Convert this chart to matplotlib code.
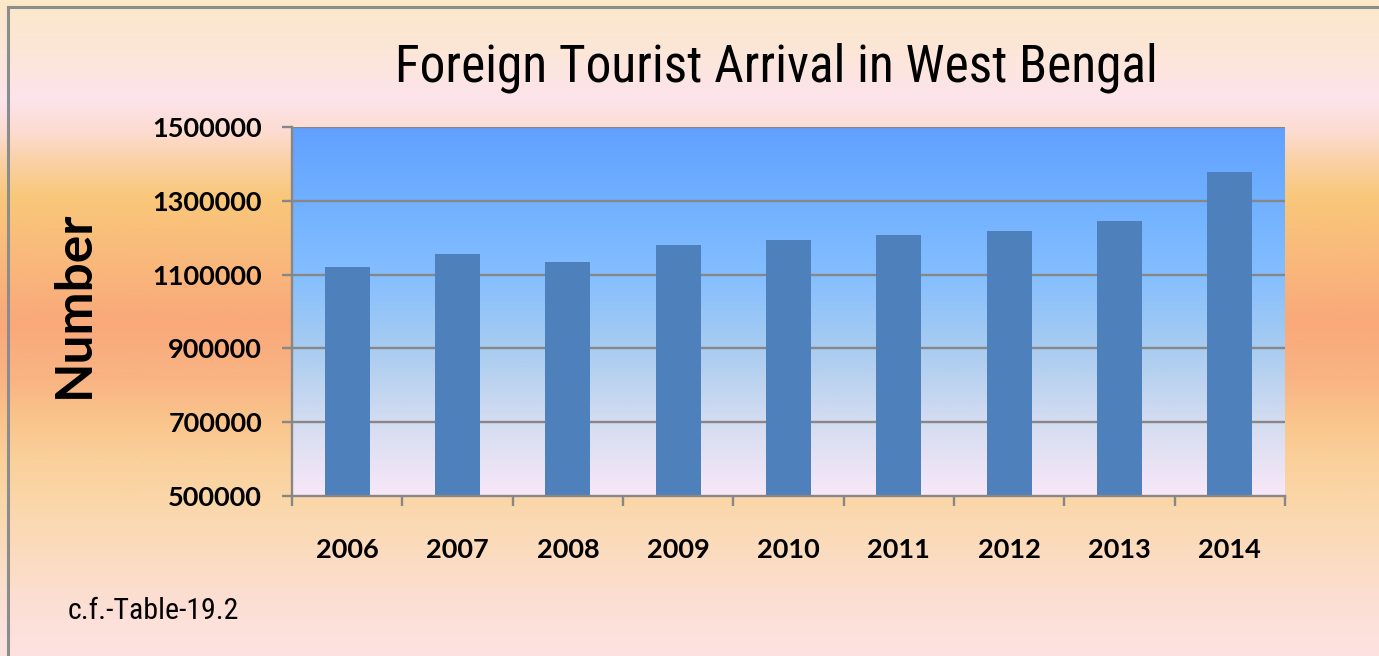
import numpy as np
import matplotlib
matplotlib.use("Agg")
from matplotlib import pyplot as plt
from matplotlib import font_manager
from matplotlib.colors import LinearSegmentedColormap
from matplotlib.lines import Line2D

years = ["2006", "2007", "2008", "2009", "2010", "2011", "2012", "2013", "2014"]
arrivals = [1121000, 1156000, 1134000, 1180000, 1194000, 1207000, 1218000, 1245000, 1378000]
y_ticks = [500000, 700000, 900000, 1100000, 1300000, 1500000]

W, H = 1379, 656

# the title uses a narrow face in the original; take one if it is around
installed = {f.name for f in font_manager.fontManager.ttflist}
NARROW = "Liberation Sans"
title_size, note_size = 33, 19.5
for name in ["Roboto Condensed", "Liberation Sans Narrow", "Open Sans Condensed"]:
    if name in installed:
        NARROW = name
        title_size, note_size = 37, 21.5
        break
BOLD = "Lato"

# background gradients (top -> bottom)
bg_cmap = LinearSegmentedColormap.from_list("bg", [
    (0.00, "#fbe9c9"), (0.08, "#fce6d8"), (0.15, "#fde4ec"), (0.20, "#fcdcd0"),
    (0.25, "#fad0a0"), (0.30, "#f9c77a"), (0.40, "#f9b87c"), (0.49, "#f9a97a"),
    (0.58, "#f9b484"), (0.64, "#fac48c"), (0.70, "#fad09a"), (0.76, "#fad6a8"),
    (0.85, "#fbdcc0"), (0.94, "#fce0d8"), (1.00, "#fde2e0")])
plot_cmap = LinearSegmentedColormap.from_list("plot", [
    (0.00, "#62a0ff"), (0.20, "#70b0ff"), (0.40, "#84beff"),
    (0.60, "#a8ccf0"), (0.80, "#d4dcf0"), (1.00, "#f8e8f8")])

fig = plt.figure(figsize=(W / 100, H / 100), dpi=100)

bg = fig.add_axes([0, 0, 1, 1], zorder=-10)
bg.imshow(np.linspace(0, 1, 256).reshape(-1, 1), cmap=bg_cmap, aspect="auto",
          extent=[0, 1, 0, 1], origin="upper")
bg.set_xlim(0, 1)
bg.set_ylim(0, 1)
bg.axis("off")
# outer frame (left and top only, the rest is cropped)
bg.add_line(Line2D([8 / W, 8 / W], [0, 1 - 7 / H], color="#8c8c8c", lw=2.2))
bg.add_line(Line2D([8 / W, 1], [1 - 7 / H, 1 - 7 / H], color="#8c8c8c", lw=2.2))

ax = fig.add_axes([292 / W, 1 - 496 / H, (1285 - 292) / W, (496 - 127) / H])
ax.set_xlim(-0.5, len(years) - 0.5)
ax.set_ylim(500000, 1500000)
ax.imshow(np.linspace(0, 1, 256).reshape(-1, 1), cmap=plot_cmap, aspect="auto",
          extent=[-0.5, len(years) - 0.5, 500000, 1500000], origin="upper", zorder=0)

x = np.arange(len(years))
ax.bar(x, [v - 500000 for v in arrivals], bottom=500000, width=0.41,
       color="#4e80bc", zorder=3)

for t in y_ticks[1:]:
    ax.axhline(t, color="#878787", lw=1.7, zorder=2)

for side in ["top", "right"]:
    ax.spines[side].set_visible(False)
for side in ["left", "bottom"]:
    ax.spines[side].set_color("#878787")
    ax.spines[side].set_linewidth(1.7)
    ax.spines[side].set_zorder(4)

ax.set_yticks(y_ticks)
ax.set_yticklabels([str(t) for t in y_ticks], fontfamily=BOLD, fontweight="bold",
                   fontsize=19.5)
ax.tick_params(axis="y", length=7.5, width=1.7, color="#878787", pad=14)

ax.set_xticks(x)
ax.set_xticklabels(years, fontfamily=BOLD, fontweight="bold", fontsize=19.5)
ax.set_xticks(np.arange(-0.5, len(years)), minor=True)
ax.tick_params(axis="x", which="major", length=0, pad=30)
ax.tick_params(axis="x", which="minor", length=7.5, width=1.7, color="#878787")

fig.text(776 / W, 1 - 68 / H, "Foreign Tourist Arrival in West Bengal",
         ha="center", va="center", fontsize=title_size, fontfamily=NARROW)
fig.text(74 / W, 1 - 304 / H, "Number", rotation=90, ha="center", va="center",
         fontsize=37, fontfamily=BOLD, fontweight="bold")
fig.text(68 / W, 1 - 611 / H, "c.f.-Table-19.2", ha="left", va="center",
         fontsize=note_size, fontfamily=NARROW)

fig.savefig("out.png", dpi=100)
